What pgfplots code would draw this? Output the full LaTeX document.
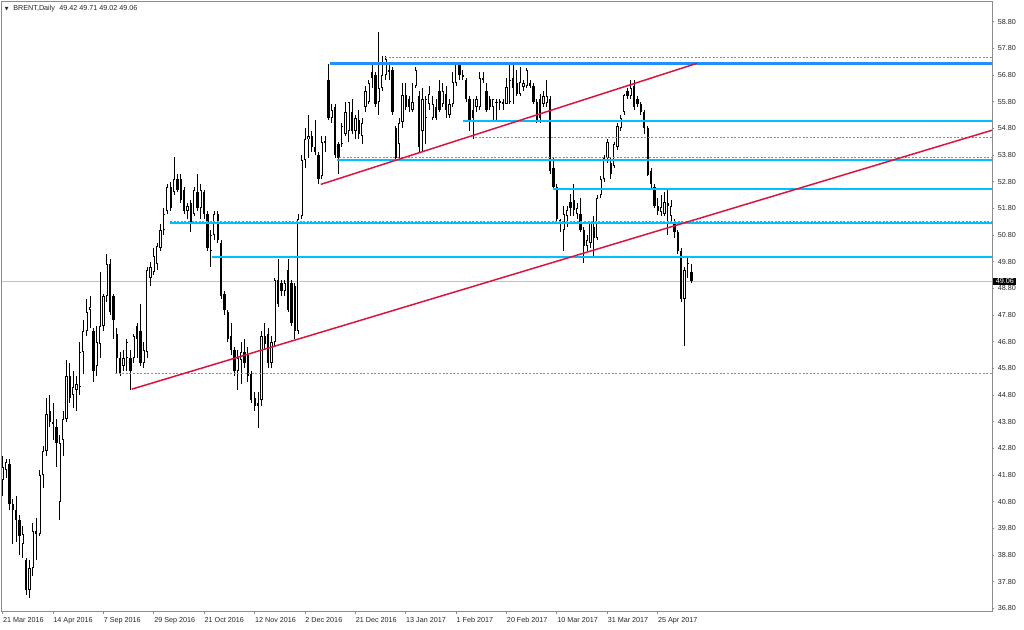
\documentclass[border=0pt]{standalone}
\usepackage{fontspec}
\setmainfont{Liberation Sans}
\newfontfamily\djv{DejaVu Sans}
\usepackage{pgfplots}
\usepackage{pgfplotstable}
\pgfplotsset{compat=1.18}
\definecolor{mtblue}{RGB}{30,144,255}
\definecolor{skyb}{RGB}{0,191,255}
\definecolor{mtred}{RGB}{220,20,60}
\definecolor{framegray}{RGB}{140,140,140}
\definecolor{curgray}{RGB}{192,192,192}
\newcommand{\mtfont}{\fontsize{3.6pt}{4pt}\selectfont}

\pgfplotstableread{
i o h l c
0 41.6 42.5 41.0 42.1
1 42.0 42.4 41.7 42.3
2 42.2 42.4 40.5 40.7
3 40.7 40.9 39.2 40.5
4 40.5 41.0 39.3 40.1
5 40.1 40.3 38.8 39.5
6 39.2 39.9 38.7 39.6
7 38.6 38.7 37.3 37.5
8 37.5 38.6 37.2 38.3
9 38.3 40.0 38.0 39.7
10 39.7 40.2 38.6 39.6
11 39.6 42.0 39.5 41.8
12 41.8 42.9 41.3 42.7
13 42.7 44.7 42.5 44.1
14 44.2 44.8 43.6 43.8
15 43.8 44.5 43.1 43.7
16 43.6 43.9 42.1 43.0
17 40.8 43.3 40.1 43.0
18 43.1 44.2 42.5 43.9
19 43.9 46.1 43.8 45.5
20 45.5 46.0 44.5 44.7
21 44.8 45.7 44.3 45.1
22 45.0 45.5 44.2 45.2
23 45.1 46.8 44.8 46.4
24 46.4 47.6 45.6 47.2
25 47.2 48.4 47.0 47.9
26 48.0 48.5 47.3 48.1
27 47.2 47.3 45.3 45.7
28 45.9 47.4 45.5 46.8
29 46.7 49.4 46.2 47.4
30 47.4 48.6 47.2 48.5
31 48.5 50.1 48.3 49.7
32 49.7 49.9 47.8 47.9
33 48.5 48.6 46.9 47.6
34 47.1 47.3 45.6 46.2
35 46.2 46.4 45.5 45.6
36 45.9 46.5 45.7 46.2
37 46.2 46.9 45.7 46.8
38 46.2 46.5 45.0 45.7
39 46.2 47.1 46.0 47.0
40 47.4 47.5 46.2 46.9
41 47.2 48.2 45.9 46.0
42 46.0 46.8 45.8 46.5
43 46.4 49.6 46.2 49.5
44 49.2 49.8 48.9 49.6
45 49.4 50.3 49.3 50.0
46 49.7 50.5 49.5 50.4
47 50.3 51.2 50.2 51.0
48 51.0 51.8 50.8 51.6
49 51.7 52.7 51.6 52.6
50 52.6 52.8 51.7 51.8
51 52.4 53.74 52.3 52.9
52 52.9 53.1 52.4 52.5
53 52.9 53.1 52.0 52.1
54 52.5 52.6 51.6 51.7
55 51.7 52.0 51.4 51.9
56 52.0 52.1 50.9 51.3
57 51.6 52.6 51.5 52.5
58 52.4 53.1 51.7 51.8
59 51.8 52.7 51.4 52.5
60 52.4 52.5 51.4 51.6
61 51.6 51.7 50.2 50.3
62 50.2 51.0 49.6 50.8
63 50.8 51.7 50.6 51.6
64 51.6 51.7 50.5 50.6
65 50.5 50.6 48.4 48.5
66 48.6 48.7 47.8 48.0
67 47.9 48.0 46.8 46.9
68 47.0 47.5 46.3 46.5
69 46.5 46.6 45.5 45.7
70 45.7 46.5 45.0 46.2
71 46.1 46.8 45.2 46.4
72 46.4 46.9 45.8 46.0
73 46.3 46.6 45.3 45.5
74 45.6 45.7 44.5 44.6
75 44.7 44.9 44.2 44.4
76 44.5 44.9 43.55 44.4
77 44.6 47.2 44.4 47.0
78 47.0 47.5 46.5 46.7
79 47.1 47.3 45.8 46.0
80 46.0 47.0 45.8 46.8
81 46.8 49.2 46.6 49.1
82 49.1 49.9 48.1 48.2
83 49.0 49.1 48.5 48.7
84 48.7 49.1 48.5 49.0
85 49.5 49.9 47.9 48.0
86 49.0 49.1 47.4 47.5
87 48.9 49.0 46.9 47.2
88 47.2 51.6 47.1 51.4
89 51.5 53.8 51.4 53.6
90 53.6 54.8 53.3 54.4
91 54.4 55.3 53.7 54.5
92 54.5 54.7 53.9 54.1
93 54.1 55.1 53.8 53.9
94 53.8 53.9 52.7 52.9
95 53.0 54.5 52.9 54.3
96 54.3 54.5 53.9 54.3
97 56.6 57.2 55.1 55.2
98 55.2 55.7 55.0 55.5
99 55.6 55.7 53.7 53.8
100 54.2 54.3 53.1 53.7
101 54.2 55.0 54.1 54.9
102 54.6 55.8 54.5 55.4
103 54.7 55.8 54.3 55.8
104 55.4 55.9 54.6 54.7
105 54.7 55.3 54.4 55.2
106 55.1 55.5 54.4 54.6
107 54.5 55.2 54.2 55.0
108 55.6 56.4 55.4 56.2
109 55.8 56.6 55.7 56.5
110 56.9 57.2 56.3 56.7
111 56.8 56.9 55.6 55.7
112 55.8 58.4 55.3 56.3
113 56.3 57.5 56.2 56.8
114 56.8 57.5 56.6 57.4
115 57.0 57.2 56.6 56.9
116 57.0 57.1 55.3 55.4
117 54.8 54.9 53.6 53.7
118 54.2 55.2 53.7 55.0
119 55.05 56.5 54.8 56.05
120 56.05 56.5 55.5 55.6
121 55.9 56.0 55.4 55.6
122 55.5 56.5 55.4 55.8
123 56.4 57.1 56.3 57.0
124 56.0 56.2 53.9 54.1
125 54.7 56.3 53.9 55.9
126 55.2 56.0 54.2 55.9
127 55.7 56.4 55.5 56.1
128 55.2 56.0 55.1 55.7
129 55.6 55.9 55.1 55.2
130 56.2 56.6 55.4 55.5
131 55.7 56.5 55.6 56.2
132 56.1 56.4 55.2 55.5
133 55.3 55.9 55.2 55.7
134 55.7 56.9 55.6 56.55
135 56.5 57.3 56.4 57.2
136 57.2 57.3 56.6 56.8
137 56.8 57.0 56.6 56.75
138 56.6 56.7 55.8 55.9
139 55.9 56.0 54.7 55.1
140 55.5 55.9 54.4 55.2
141 55.6 56.0 55.4 55.9
142 55.6 56.9 55.5 56.7
143 56.7 56.9 56.5 56.6
144 56.2 56.5 55.4 55.5
145 55.9 56.0 55.5 55.6
146 55.6 55.9 55.1 55.9
147 55.75 55.9 55.1 55.8
148 55.8 55.9 55.5 55.8
149 55.8 55.9 55.5 55.7
150 55.7 56.7 55.7 56.35
151 55.8 57.3 55.7 56.6
152 56.7 57.2 55.7 56.3
153 56.5 57.0 56.0 56.1
154 56.1 57.1 56.0 56.55
155 56.35 56.6 56.2 56.5
156 56.4 57.05 56.3 57.0
157 56.5 56.6 56.3 56.4
158 56.4 56.5 55.7 55.8
159 55.8 55.9 55.0 55.05
160 55.9 56.1 55.0 55.2
161 55.7 56.2 55.6 56.0
162 55.75 56.6 55.6 56.0
163 55.9 56.0 53.1 53.2
164 53.3 53.7 52.5 52.6
165 52.6 52.7 51.2 51.4
166 51.3 51.4 50.9 51.35
167 51.0 51.9 50.2 51.6
168 51.5 51.9 51.1 51.74
169 52.05 52.35 51.5 51.8
170 52.1 52.7 51.5 51.74
171 51.6 52.0 51.4 51.8
172 51.6 52.2 50.9 51.0
173 51.0 51.1 49.74 50.4
174 50.4 50.8 50.2 50.6
175 50.5 51.3 50.3 51.3
176 51.1 51.5 50.0 50.7
177 50.7 52.3 50.6 52.2
178 52.3 53.0 52.2 52.9
179 52.9 53.8 52.8 53.7
180 53.7 54.4 53.5 54.3
181 53.5 53.7 52.9 53.1
182 53.4 54.3 53.3 54.2
183 54.1 55.0 54.0 54.9
184 54.8 55.3 54.7 55.2
185 55.4 56.1 55.3 56.05
186 56.2 56.3 55.9 56.0
187 56.0 56.6 55.9 56.3
188 56.4 56.6 55.5 55.6
189 55.9 56.0 55.6 55.7
190 55.7 55.8 55.3 55.4
191 55.4 55.5 54.6 54.8
192 54.8 54.9 53.0 53.05
193 53.2 53.3 52.55 52.7
194 52.6 52.7 51.8 51.9
195 51.9 52.2 51.55 51.7
196 51.67 52.3 51.5 51.86
197 51.6 52.4 51.5 52.05
198 52.0 52.5 50.8 51.9
199 51.5 52.1 51.3 51.9
200 51.3 51.4 50.7 50.9
201 50.9 51.0 50.1 50.2
202 50.2 50.3 48.3 48.4
203 48.4 49.6 46.64 49.5
204 49.36 49.93 49.2 49.74
205 49.42 49.71 49.02 49.06
}\brent

\begin{document}
\begin{tikzpicture}
\useasboundingbox (-1pt,-9pt) rectangle (511pt,306pt);
\begin{axis}[
  scale only axis, width=495pt, height=305pt,
  at={(0pt,0pt)}, anchor=south west,
  xmin=-0.21, xmax=294.5, ymin=36.666, ymax=59.539,
  axis line style={draw=framegray, line width=0.5pt},
  tick align=outside,
  xtick pos=bottom, ytick pos=right,
  major tick length=1.2pt,
  tick style={draw=framegray, line width=0.5pt},
  ytick={36.8,37.8,38.8,39.8,40.8,41.8,42.8,43.8,44.8,45.8,46.8,47.8,48.8,49.8,50.8,51.8,52.8,53.8,54.8,55.8,56.8,57.8,58.8},
  yticklabels={36.80,37.80,38.80,39.80,40.80,41.80,42.80,43.80,44.80,45.80,46.80,47.80,48.80,49.80,50.80,51.80,52.80,53.80,54.80,55.80,56.80,57.80,58.80},
  xtick={0,15,30,45,60,75,90,105,120,135,150,165,180,195},
  xticklabels={21 Mar 2016,14 Apr 2016,7 Sep 2016,29 Sep 2016,21 Oct 2016,12 Nov 2016,2 Dec 2016,21 Dec 2016,13 Jan 2017,1 Feb 2017,20 Feb 2017,10 Mar 2017,31 Mar 2017,25 Apr 2017},
  yticklabel style={font=\mtfont, anchor=west, inner sep=0pt, xshift=1.5pt, text=black!85},
  xticklabel style={font=\mtfont, anchor=north west, inner sep=0pt, yshift=-1.4pt, text=black!85},
  candle/.style={only marks, mark=*, mark size=0pt, mark options={draw=none, fill=none}, forget plot},
]
% current price line
\addplot[curgray, line width=0.5pt, forget plot] coordinates {(-0.21,49.06) (294.5,49.06)};
% wicks
\addplot[candle,
  error bars/.cd, y dir=both, y explicit, error mark=none,
  error bar style={draw=black, line width=0.5pt, line cap=butt}]
  table[x=i, y expr={(\thisrow{h}+\thisrow{l})/2}, y error expr={(\thisrow{h}-\thisrow{l})/2}] {\brent};
% bodies
\addplot[candle,
  error bars/.cd, y dir=both, y explicit, error mark=none,
  error bar style={draw=black, line width=1.15pt, line cap=butt}]
  table[x=i, y expr={(\thisrow{o}+\thisrow{c})/2}, y error expr={max(abs(\thisrow{c}-\thisrow{o})/2,0.025)}] {\brent};
% white interior of rising candles
\addplot[candle,
  error bars/.cd, y dir=both, y explicit, error mark=none,
  error bar style={draw=white, line width=0.45pt, line cap=butt}]
  table[x=i, y expr={(\thisrow{o}+\thisrow{c})/2}, y error expr={(\thisrow{c}>\thisrow{o}) ? max((\thisrow{c}-\thisrow{o})/2-0.035,0) : 0}] {\brent};
% horizontal levels
\addplot[mtblue, line width=1.25pt] coordinates {(97.4,57.24) (294.5,57.24)};
\addplot[skyb, line width=0.5pt, dash pattern=on 1pt off 0.8pt] coordinates {(113.8,57.45) (294.5,57.45)};
\addplot[skyb, line width=1pt] coordinates {(137.1,55.09) (294.5,55.09)};
\addplot[skyb, line width=0.5pt, dash pattern=on 1pt off 0.8pt] coordinates {(140.6,54.45) (294.5,54.45)};
\addplot[skyb, line width=0.5pt, dash pattern=on 1pt off 0.8pt] coordinates {(100.2,53.71) (294.5,53.71)};
\addplot[skyb, line width=1pt] coordinates {(99.4,53.63) (294.5,53.63)};
\addplot[skyb, line width=1pt] coordinates {(163.9,52.54) (294.5,52.54)};
\addplot[skyb, line width=0.5pt, dash pattern=on 1pt off 0.8pt] coordinates {(49.8,51.30) (294.5,51.30)};
\addplot[skyb, line width=1pt] coordinates {(49.8,51.24) (294.5,51.24)};
\addplot[skyb, line width=1pt] coordinates {(62.3,49.97) (294.5,49.97)};
\addplot[skyb, line width=0.5pt, dash pattern=on 1pt off 0.8pt] coordinates {(33.4,45.62) (294.5,45.62)};
% trend lines
\addplot[mtred, line width=0.75pt] coordinates {(38.4,45.02) (294.5,54.73)};
\addplot[mtred, line width=0.75pt] coordinates {(94.7,52.70) (206.7,57.24)};
\coordinate (cp) at (axis cs:294.5,49.06);
\end{axis}
\node[fill=black, text=white, font=\mtfont, inner xsep=1.3pt, inner ysep=0.6pt, anchor=west] at ([xshift=0.4pt]cp) {49.06};
\node[anchor=west, font=\mtfont, inner sep=0pt, text=black!85] at (5.5pt,301.6pt) {BRENT,Daily\hspace{2.2pt}49.42 49.71 49.02 49.06};
\node[anchor=west, font={\djv\fontsize{2.4pt}{3pt}\selectfont}, inner sep=0pt, text=black!85] at (1.2pt,301.6pt) {▼};
\end{tikzpicture}
\end{document}
